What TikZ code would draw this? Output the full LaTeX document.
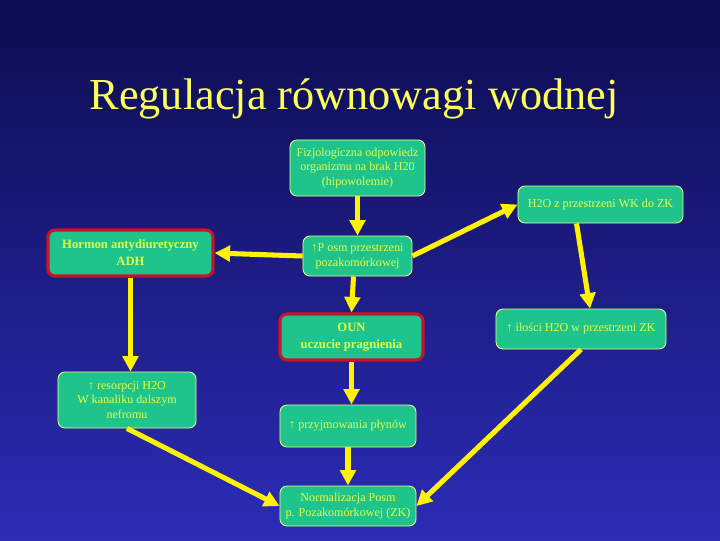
\documentclass[tikz,border=0pt]{standalone}
\usepackage{fontspec}
\setmainfont{Liberation Serif}
\usepackage{tikz}
\usetikzlibrary{arrows.meta, calc}
\definecolor{bgtop}{RGB}{12,12,80}
\definecolor{bgbot}{RGB}{44,44,182}
\definecolor{boxfill}{RGB}{30,196,140}
\definecolor{boxtext}{RGB}{230,255,70}
\definecolor{titlecol}{RGB}{255,255,90}
\definecolor{adhred}{RGB}{200,20,40}

\begin{document}
\begin{tikzpicture}[x=0.025cm,y=-0.025cm,line cap=round,
    box/.style={draw=boxtext!70!white, line width=0.6pt, fill=boxfill,
      rounded corners=5pt, text=boxtext, align=center, inner sep=0pt,
      font=\fontsize{8.6}{10.6}\selectfont},
    redbox/.style={box, draw=adhred, line width=2.2pt,
      font=\fontsize{9}{12}\selectfont\bfseries},
    arr/.style={yellow, line width=3.6pt, line cap=butt,
      -{Triangle[length=11pt,width=11pt]}}]
  % --- Sfondo ---
  \shade[top color=bgtop, bottom color=bgbot] (0,0) rectangle (720,540);
  \useasboundingbox (0,0) rectangle (720,540);
  \node[text=titlecol, font=\fontsize{31.5}{36}\selectfont] (title) at (354,99)
    {Regulacja równowagi wodnej};

  % --- Bloki ---
  \node[box, minimum width=3.375cm, minimum height=1.4cm] (fizj) at (357.5,168)
    {Fizjologiczna odpowiedz\\ organizmu na brak H20\\ (hipowolemie)};
  \node[box, minimum width=4.125cm, minimum height=0.925cm] (wkzk) at (600.5,204.5)
    {H2O z przestrzeni WK do ZK};
  \node[redbox, minimum width=4.125cm, minimum height=1.15cm] (adh) at (130.5,253)
    {Hormon antydiuretyczny\\ ADH};
  \node[box, minimum width=2.725cm, minimum height=1.0cm] (posm) at (357.5,256)
    {↑P osm przestrzeni\\ pozakomórkowej};
  \node[redbox, minimum width=3.575cm, minimum height=1.15cm] (oun) at (351.5,337)
    {OUN\\ uczucie pragnienia};
  \node[box, minimum width=4.25cm, minimum height=1.0cm] (ilosci) at (581,329)
    {↑ ilości H2O w przestrzeni ZK};
  \node[box, minimum width=3.45cm, minimum height=1.4cm] (resorp) at (127,400)
    {↑ resorpcji H2O\\ W kanaliku dalszym\\ nefromu};
  \node[box, minimum width=3.4cm, minimum height=1.05cm] (przyj) at (348,426)
    {↑ przyjmowania płynów};
  \node[box, minimum width=3.4cm, minimum height=1.0cm] (norm) at (348,506)
    {Normalizacja Posm\\ p. Pozakomórkowej (ZK)};

  % --- Strzałki ---
  \draw[arr] (fizj.south) -- (posm.north);
  \draw[arr] (posm.east) -- (wkzk.west);
  \draw[arr] (posm.west) -- (adh.east);
  \draw[arr] ([xshift=-0.1cm]posm.south) -- (oun.north);
  \draw[arr] ([xshift=-0.6cm]wkzk.south) -- ([xshift=0.225cm]ilosci.north);
  \draw[arr] (adh.south) -- (adh.south |- resorp.north);
  \draw[arr] (oun.south) -- (oun.south |- przyj.north);
  \draw[arr] (przyj.south) -- (norm.north);
  \draw[arr] (resorp.south) -- (norm.west);
  \draw[arr] (ilosci.south) -- (norm.east);
\end{tikzpicture}
\end{document}
